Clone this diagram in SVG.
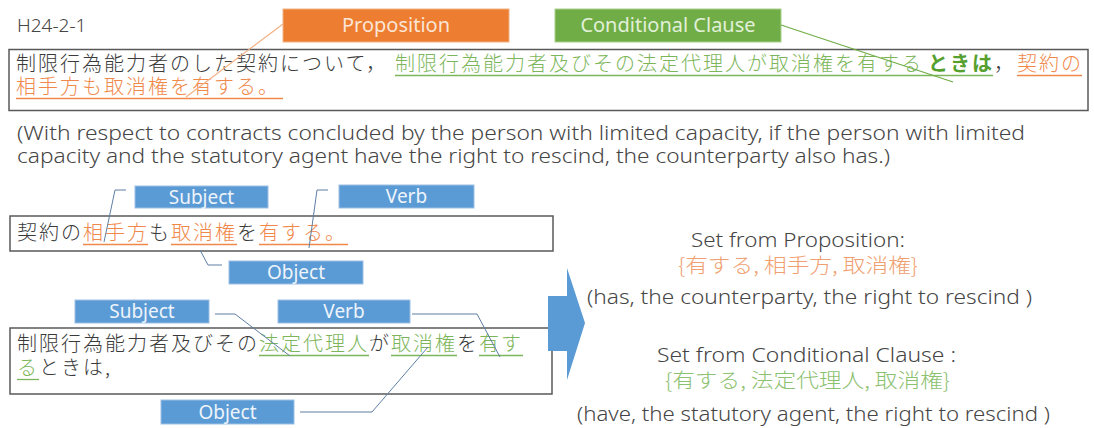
<svg xmlns="http://www.w3.org/2000/svg" width="1094" height="428" viewBox="0 0 1094 428">
<style>
text{font-family:"Noto Sans CJK JP","Noto Sans",sans-serif;}
.jp{font-size:20px;letter-spacing:2px;fill:#3a3a3a;font-weight:300;}
.o{fill:#F0884A;}
.g{fill:#7DB65A;}
.gb{fill:#55A02E;font-weight:bold;}
.en{font-family:"Noto Sans","Noto Sans CJK JP",sans-serif;font-size:20px;fill:#454545;font-weight:300;}
.box{fill:#fff;stroke:#595959;stroke-width:1.5;}
.lbl{fill:#5B9BD5;stroke:#9DBFE3;stroke-width:1;}
.lt{font-family:"Noto Sans","Noto Sans CJK JP",sans-serif;font-size:19px;fill:#EEF4FB;text-anchor:middle;}
.ul-o{stroke:#F0884A;stroke-width:1.3;}
.ul-g{stroke:#7DB65A;stroke-width:1.3;}
.con{fill:none;stroke:#5E7FA3;stroke-width:1;}
.set{font-size:20px;font-weight:300;}
</style>
<text x="17" y="32" class="en" style="font-size:19px">H24-2-1</text>

<g id="main-sentence">
<rect class="box" x="9" y="49.5" width="1079" height="61"/>
<text class="jp" y="71"><tspan x="16">制限行為能力者のした契約について，</tspan><tspan x="395" class="g">制限行為能力者及びその法定代理人が取消権を有する</tspan><tspan x="928" class="gb">ときは</tspan><tspan x="994">，</tspan><tspan x="1017" class="o">契約の</tspan></text>
<text class="jp o" x="16" y="94">相手方も取消権を有する。</text>
<line class="ul-g" x1="395" y1="75.5" x2="993" y2="75.5"/>
<line class="ul-o" x1="1017" y1="75.5" x2="1082" y2="75.5"/>
<line class="ul-o" x1="16" y1="98.5" x2="283" y2="98.5"/>
</g>

<g id="proposition">
<rect x="283" y="9" width="226" height="33" fill="#ED7D31" stroke="#F4B183" stroke-width="1"/>
<text class="lt" x="396" y="32" style="font-size:20px;fill:#FBE5D6">Proposition</text>
</g>
<g id="conditional">
<rect x="555" y="9" width="226" height="33" fill="#70AD47" stroke="#A9D18E" stroke-width="1"/>
<text class="lt" x="668" y="32" style="font-size:20px;fill:#E2F0D9">Conditional Clause</text>
</g>

<g id="translation">
<text class="en" x="17" y="140" textLength="1008" lengthAdjust="spacingAndGlyphs">(With respect to contracts concluded by the person with limited capacity, if the person with limited</text>
<text class="en" x="17" y="163" textLength="873" lengthAdjust="spacingAndGlyphs">capacity and the statutory agent have the right to rescind, the counterparty also has.)</text>
</g>

<g id="sentence-1">
<rect class="box" x="10" y="216" width="543" height="35"/>
<text class="jp" y="240"><tspan x="17">契約の</tspan><tspan x="83" class="o">相手方</tspan><tspan x="149">も</tspan><tspan x="171" class="o">取消権</tspan><tspan x="237">を</tspan><tspan x="259" class="o">有する。</tspan></text>
<line class="ul-o" x1="83" y1="244.5" x2="148" y2="244.5"/>
<line class="ul-o" x1="171" y1="244.5" x2="237" y2="244.5"/>
<line class="ul-o" x1="259" y1="244.5" x2="348" y2="244.5"/>
</g>
<g id="subject-1"><rect class="lbl" x="135" y="186" width="133" height="22"/><text class="lt" x="201.5" y="204">Subject</text></g>
<g id="verb-1"><rect class="lbl" x="339" y="185" width="135" height="23"/><text class="lt" x="406.5" y="203">Verb</text></g>
<g id="object-1"><rect class="lbl" x="229" y="261" width="134" height="23"/><text class="lt" x="296" y="279">Object</text></g>

<g id="sentence-2">
<rect class="box" x="10" y="328" width="542" height="66"/>
<text class="jp" y="351"><tspan x="17">制限行為能力者及びその</tspan><tspan x="259" class="g">法定代理人</tspan><tspan x="369">が</tspan><tspan x="391" class="g">取消権</tspan><tspan x="457">を</tspan><tspan x="479" class="g">有す</tspan></text>
<text class="jp" y="375"><tspan x="17" class="g">る</tspan><tspan x="39">ときは,</tspan></text>
<line class="ul-g" x1="259" y1="355.5" x2="369" y2="355.5"/>
<line class="ul-g" x1="391" y1="355.5" x2="457" y2="355.5"/>
<line class="ul-g" x1="479" y1="355.5" x2="523" y2="355.5"/>
<line class="ul-g" x1="17" y1="379.5" x2="39" y2="379.5"/>
</g>
<g id="subject-2"><rect class="lbl" x="75" y="300" width="134" height="23"/><text class="lt" x="142" y="318">Subject</text></g>
<g id="verb-2"><rect class="lbl" x="278" y="300" width="132" height="23"/><text class="lt" x="344" y="318">Verb</text></g>
<g id="object-2"><rect class="lbl" x="161" y="400" width="133" height="24"/><text class="lt" x="227.5" y="419">Object</text></g>

<g id="arrow">
<polygon points="548,296 567,296 567,268 585,323 567,380 567,351 548,351" fill="#5B9BD5"/>
</g>

<g id="sets">
<text class="en" x="691" y="247" textLength="214" lengthAdjust="spacingAndGlyphs">Set from Proposition:</text>
<text class="set" x="678" y="273" textLength="240" lengthAdjust="spacingAndGlyphs" style="fill:#F0A070">{有する, 相手方, 取消権}</text>
<text class="en" x="587" y="304" textLength="445" lengthAdjust="spacingAndGlyphs">(has, the counterparty, the right to rescind )</text>
<text class="en" x="657" y="362" textLength="299" lengthAdjust="spacingAndGlyphs">Set from Conditional Clause :</text>
<text class="set" x="665" y="388" textLength="285" lengthAdjust="spacingAndGlyphs" style="fill:#8CC170">{有する, 法定代理人, 取消権}</text>
<text class="en" x="577" y="421" textLength="473" lengthAdjust="spacingAndGlyphs">(have, the statutory agent, the right to rescind )</text>
</g>

<g id="connectors">
<line x1="283" y1="24" x2="186" y2="97" stroke="#F4B183" stroke-width="1.2"/>
<line x1="781" y1="25" x2="953" y2="82" stroke="#70AD47" stroke-width="1.2"/>
<polyline class="con" points="126,190 115,190 104,242"/>
<polyline class="con" points="328,190 317,190 309,248"/>
<polyline class="con" points="200,250 208,265 222,265"/>
<polyline class="con" points="215,314 235,314 290,356"/>
<polyline class="con" points="412,314 477,314 500,357"/>
<polyline class="con" points="300,412 372,412 428,347"/>
</g>
</svg>
